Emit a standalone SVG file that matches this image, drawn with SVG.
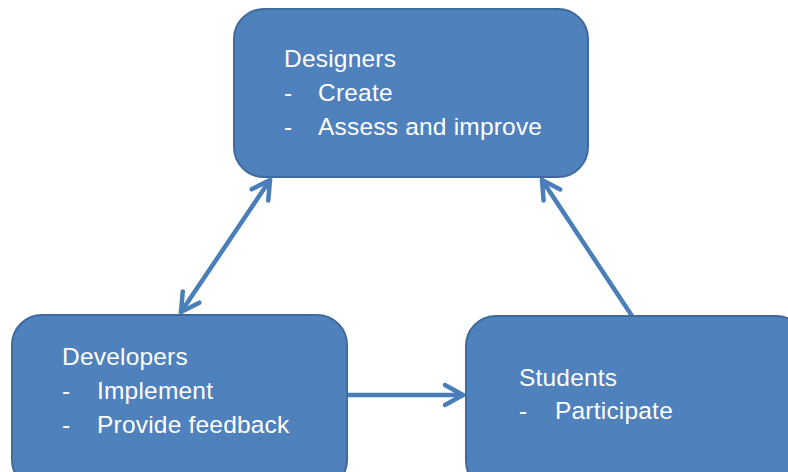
<svg xmlns="http://www.w3.org/2000/svg" width="788" height="472" viewBox="0 0 788 472">
<style>
.box{fill:#4F81BD;stroke:#3F6A9E;stroke-width:2}
.t{font-family:"Liberation Sans",Arial,sans-serif;font-size:24.5px;letter-spacing:0.2px;fill:#FFFFFF}
.c{fill:none;stroke:#4A7EBB;stroke-width:4.5;stroke-linecap:round}
</style>
<defs>
<marker id="ah" markerUnits="userSpaceOnUse" viewBox="-24 -14 28 28" markerWidth="28" markerHeight="28" refX="0" refY="0" orient="auto-start-reverse">
<path d="M-18,-10 L0,0 L-18,10" fill="none" stroke="#4A7EBB" stroke-width="4.5" stroke-linecap="round" stroke-linejoin="round"/>
</marker>
</defs>
<rect width="788" height="472" fill="#FFFFFF"/>
<g id="connectors">
<line class="c" x1="181" y1="312" x2="270" y2="180" marker-start="url(#ah)" marker-end="url(#ah)"/>
<line class="c" x1="632" y1="316" x2="542" y2="180" marker-end="url(#ah)"/>
<line class="c" x1="348" y1="395" x2="463" y2="395" marker-end="url(#ah)"/>
</g>
<g id="designers">
<rect class="box" x="234" y="9" width="354" height="168" rx="30"/>
<text class="t" x="284" y="67">Designers</text>
<text class="t" x="284" y="101">-</text><text class="t" x="318" y="101">Create</text>
<text class="t" x="284" y="135">-</text><text class="t" x="318" y="135">Assess and improve</text>
</g>
<g id="developers">
<rect class="box" x="12" y="315" width="335" height="175" rx="30"/>
<text class="t" x="62" y="365">Developers</text>
<text class="t" x="62" y="399">-</text><text class="t" x="97" y="399">Implement</text>
<text class="t" x="62" y="433">-</text><text class="t" x="97" y="433">Provide feedback</text>
</g>
<g id="students">
<rect class="box" x="466" y="316" width="340" height="175" rx="30"/>
<text class="t" x="519" y="386">Students</text>
<text class="t" x="519" y="419">-</text><text class="t" x="555" y="419">Participate</text>
</g>
</svg>
